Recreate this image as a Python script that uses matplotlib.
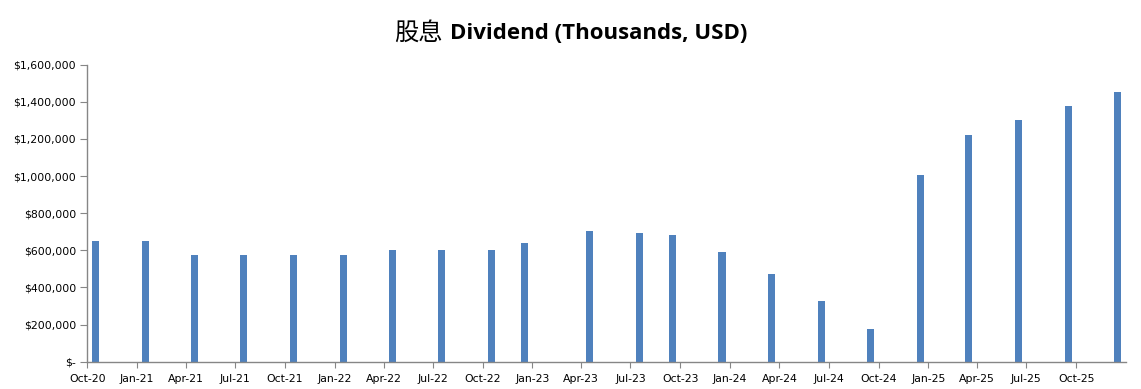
import pandas as pd
import matplotlib
matplotlib.use('Agg')
import matplotlib.pyplot as plt
import matplotlib.dates as mdates
from matplotlib.ticker import FuncFormatter

# Dividendenzahlungen (Tausend USD)
pay_dates = ['2020-10-17', '2021-01-17', '2021-04-17', '2021-07-17', '2021-10-17',
             '2022-01-17', '2022-04-17', '2022-07-17', '2022-10-17', '2022-12-17',
             '2023-04-17', '2023-07-17', '2023-09-17', '2023-12-17', '2024-03-17',
             '2024-06-17', '2024-09-17', '2024-12-17', '2025-03-17', '2025-06-17',
             '2025-09-17', '2025-12-17']
dividends = [650000, 650000, 575000, 575000, 575000,
             575000, 600000, 600000, 600000, 640000,
             703000, 693000, 683000, 590000, 472000,
             327000, 176000, 1005000, 1220000, 1302000,
             1378000, 1453000]
tick_dates = pd.date_range('2020-10-01', '2025-10-01', freq='3MS')
y_ticks = list(range(0, 1600001, 200000))

dates = pd.to_datetime(pay_dates)
axis_grey = '#868686'

fig = plt.figure(figsize=(11.41, 3.89), dpi=100)
ax = fig.add_axes([87.3 / 1141, 1 - 361.7 / 389, (1126 - 87.3) / 1141, (361.7 - 64.7) / 389])

ax.bar(dates, dividends, width=13, color='#4F81BD', align='center')

ax.set_xlim(pd.Timestamp('2020-10-01'), pd.Timestamp('2026-01-01'))
ax.set_ylim(0, 1600000)
ax.set_xticks(tick_dates)
ax.xaxis.set_major_formatter(mdates.DateFormatter('%b-%y'))
ax.set_yticks(y_ticks)
ax.yaxis.set_major_formatter(FuncFormatter(lambda v, p: '$-' if v == 0 else '${:,.0f}'.format(v)))

for s in ['top', 'right']:
    ax.spines[s].set_visible(False)
for s in ['left', 'bottom']:
    ax.spines[s].set_color(axis_grey)
    ax.spines[s].set_linewidth(1)
ax.tick_params(axis='y', length=5, color=axis_grey, labelsize=7.8, pad=3, labelcolor='black')
ax.tick_params(axis='x', length=4, color=axis_grey, labelsize=7.8, pad=5, labelcolor='black')

fig.text(0.3875, 0.915, '股息', ha='right', va='center', fontsize=17.5,
         family=['Noto Sans CJK SC', 'DejaVu Sans'])
fig.text(0.3945, 0.915, 'Dividend (Thousands, USD)', ha='left', va='center', fontsize=16,
         fontweight='bold', family=['Open Sans', 'DejaVu Sans'])

fig.savefig('out.png', dpi=100)
